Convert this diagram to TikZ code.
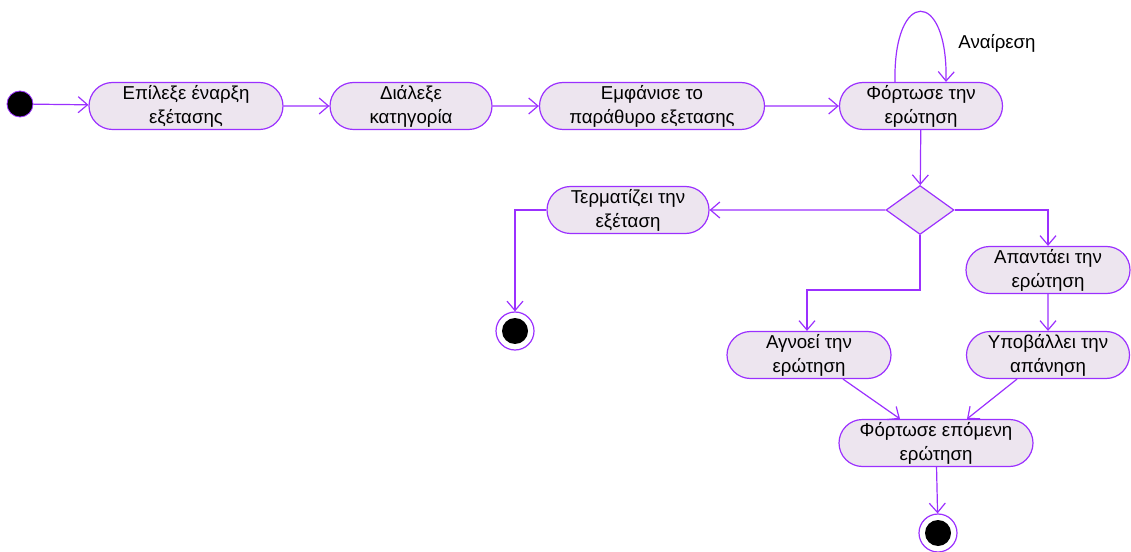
\documentclass[tikz,border=0pt]{standalone}
\usepackage{fontspec}
\setmainfont{Liberation Sans}
\usetikzlibrary{shapes.misc,shapes.geometric,arrows.meta}
\definecolor{umlline}{HTML}{9B30FF}
\definecolor{umlfill}{HTML}{EDE5EF}

\begin{document}
\begin{tikzpicture}[x=0.75pt,y=-0.75pt,
  font=\fontsize{14}{18}\selectfont,
  act/.style={rounded rectangle, draw=umlline, fill=umlfill, line width=0.9pt,
    minimum height=35.25pt, inner sep=0pt, align=center},
  decision/.style={diamond, draw=umlline, fill=umlfill, line width=0.9pt,
    minimum width=51pt, minimum height=36.75pt, inner sep=0pt},
  initial/.style={circle, fill=black, draw=umlline, line width=0.6pt,
    minimum size=19.5pt, inner sep=0pt},
  final/.style={circle, draw=umlline, fill=white, line width=0.9pt,
    minimum size=28.5pt, inner sep=0pt},
  flow/.style={draw=umlline, line width=0.9pt,
    -{Straight Barb[length=7pt,width=12pt]}}]

\useasboundingbox (0,0) rectangle (1131,552);

% activities
\node[initial] (start) at (20,104) {};
\node[act, minimum width=145.5pt] (n1) at (186,106) {Επίλεξε έναρξη\\εξέτασης};
\node[act, minimum width=121.5pt] (n2) at (411,106) {Διάλεξε\\κατηγορία};
\node[act, minimum width=168.75pt] (n3) at (652,106) {Εμφάνισε το\\παράθυρο εξετασης};
\node[act, minimum width=122.25pt] (n4) at (921,106) {Φόρτωσε την\\ερώτηση};
\node[decision] (dec) at (920,210) {};
\node[act, minimum width=121.5pt] (term) at (628,210) {Τερματίζει την\\εξέταση};
\node[final] (end1) at (515,331) {};
\fill[black] (end1.center) circle (9.75pt);
\node[act, minimum width=123pt] (ans) at (1048,270) {Απαντάει την\\ερώτηση};
\node[act, minimum width=123pt] (ign) at (809,355) {Αγνοεί την\\ερώτηση};
\node[act, minimum width=122.25pt] (sub) at (1048,355) {Υποβάλλει την\\απάνηση};
\node[act, minimum width=145.5pt] (next) at (936,443) {Φόρτωσε επόμενη\\ερώτηση};
\node[final] (end2) at (938,533) {};
\fill[black] (end2.center) circle (9.75pt);

% flows
\draw[flow] (start) -- (n1);
\draw[flow] (n1) -- (n2);
\draw[flow] (n2) -- (n3);
\draw[flow] (n3) -- (n4);
\draw[flow] ([xshift=-19.5pt]n4.north) .. controls (893,-12) and (948,-12) .. ([xshift=18.75pt]n4.north);
\node (undo) at (997,43) {Αναίρεση};
\draw[flow] (n4) -- (dec);
\draw[flow] (dec) -- (term);
\draw[flow] (term.west) -| (end1);
\draw[flow] (dec.east) -| (ans);
\coordinate (bend) at (807,290);
\draw[flow] (dec.south) |- (bend) -- (bend |- ign.north);
\draw[flow] (ans) -- (sub);
\draw[flow] ([xshift=25.5pt]ign.south) -- ([xshift=-27pt]next.north);
\draw[flow] ([xshift=-23.25pt]sub.south) -- ([xshift=23.25pt]next.north);
\draw[flow] (next) -- (end2);
\end{tikzpicture}
\end{document}
